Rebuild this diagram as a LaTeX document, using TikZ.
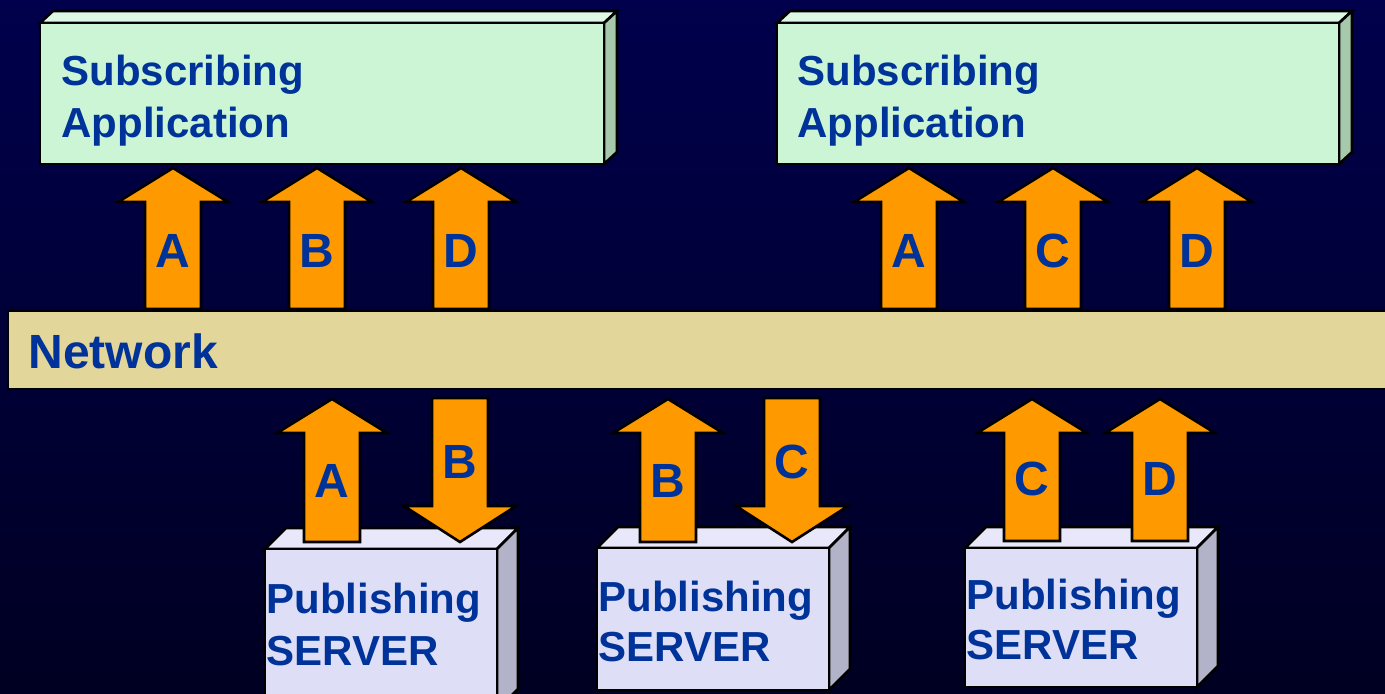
\documentclass[tikz,border=0pt]{standalone}
\usepackage{fontspec}
\setmainfont{Liberation Sans}
\definecolor{bgtop}{RGB}{0,0,76}
\definecolor{bgbot}{RGB}{0,0,34}
\definecolor{txt}{RGB}{0,51,153}
\definecolor{appfront}{RGB}{204,245,214}
\definecolor{apptop}{RGB}{221,248,228}
\definecolor{appside}{RGB}{166,201,172}
\definecolor{netfill}{RGB}{226,214,155}
\definecolor{srvfront}{RGB}{222,222,246}
\definecolor{srvtop}{RGB}{232,232,250}
\definecolor{srvside}{RGB}{178,178,200}
\definecolor{orng}{RGB}{255,153,0}
\tikzset{
  outl/.style={draw=black,line width=1.3pt,line join=miter},
  arr/.style={outl,fill=orng},
  boxtxt/.style={inner sep=0pt,anchor=base west,text=txt,font=\fontsize{21}{24}\selectfont\bfseries},
  lettxt/.style={inner sep=0pt,anchor=base,text=txt,font=\fontsize{24}{27}\selectfont\bfseries},
}
% up arrow: centre x, tip y, bottom y
\newcommand\UpArr[3]{\draw[arr] (#1,#2) -- (#1+55,#2+34) -- (#1+28,#2+34) -- (#1+28,#3) -- (#1-28,#3) -- (#1-28,#2+34) -- (#1-55,#2+34) -- cycle;}
% down arrow: centre x, top y, tip y
\newcommand\DnArr[3]{\draw[arr] (#1-28,#2) -- (#1+28,#2) -- (#1+28,#3-36) -- (#1+56,#3-36) -- (#1,#3) -- (#1-56,#3-36) -- (#1-28,#3-36) -- cycle;}
% solid box: x1,y1,x2,y2,dx,dy,front,top,side
\newcommand\SolidBox[9]{%
  \draw[outl,fill=#8] (#1,#2) -- (#1+#5,#2-#6) -- (#3+#5,#2-#6) -- (#3,#2) -- cycle;
  \draw[outl,fill=#9] (#3,#2) -- (#3+#5,#2-#6) -- (#3+#5,#4-#6) -- (#3,#4) -- cycle;
  \draw[outl,fill=#7] (#1,#2) rectangle (#3,#4);}
\begin{document}
\begin{tikzpicture}[x=0.5pt,y=-0.5pt]
\useasboundingbox (0,0) rectangle (1385,693);
\shade[top color=bgtop,bottom color=bgbot] (0,0) rectangle (1385,693);
% subscribing applications
\SolidBox{40}{23}{604}{164}{13}{12}{appfront}{apptop}{appside}
\SolidBox{777}{23}{1339}{164}{13}{12}{appfront}{apptop}{appside}
\node[boxtxt] (sub1a) at (61,85) {Subscribing};
\node[boxtxt] (sub1b) at (61,137) {Application};
\node[boxtxt] (sub2a) at (797,85) {Subscribing};
\node[boxtxt] (sub2b) at (797,137) {Application};
% arrows into applications
\UpArr{173}{168}{309}
\UpArr{317}{168}{309}
\UpArr{461}{168}{309}
\UpArr{909}{168}{309}
\UpArr{1053}{168}{309}
\UpArr{1197}{168}{309}
\node[lettxt] (ta1) at (173,267) {A};
\node[lettxt] (tb1) at (317,267) {B};
\node[lettxt] (td1) at (461,267) {D};
\node[lettxt] (ta2) at (909,267) {A};
\node[lettxt] (tc2) at (1053,267) {C};
\node[lettxt] (td2) at (1197,267) {D};
% network
\draw[outl,fill=netfill] (8,311) rectangle (1400,389);
\node[lettxt,anchor=base west] (net) at (28,368) {Network};
% publishing servers
\SolidBox{265}{549}{497}{710}{21}{21}{srvfront}{srvtop}{srvside}
\SolidBox{597}{548}{829}{690}{21}{21}{srvfront}{srvtop}{srvside}
\SolidBox{965}{548}{1197}{687}{21}{21}{srvfront}{srvtop}{srvside}
\node[boxtxt] (pub1a) at (266,613) {Publishing};
\node[boxtxt] (pub1b) at (266,665) {SERVER};
\node[boxtxt] (pub2a) at (598,611) {Publishing};
\node[boxtxt] (pub2b) at (598,661) {SERVER};
\node[boxtxt] (pub3a) at (966,609) {Publishing};
\node[boxtxt] (pub3b) at (966,659) {SERVER};
% arrows at servers
\UpArr{332}{399}{542}
\DnArr{460}{398}{542}
\UpArr{668}{399}{542}
\DnArr{792}{398}{542}
\UpArr{1032}{399}{541}
\UpArr{1160}{399}{541}
\node[lettxt] (ba1) at (332,497) {A};
\node[lettxt] (bb1) at (460,478) {B};
\node[lettxt] (bb2) at (668,497) {B};
\node[lettxt] (bc2) at (792,478) {C};
\node[lettxt] (bc3) at (1032,495) {C};
\node[lettxt] (bd3) at (1160,495) {D};
\end{tikzpicture}
\end{document}
